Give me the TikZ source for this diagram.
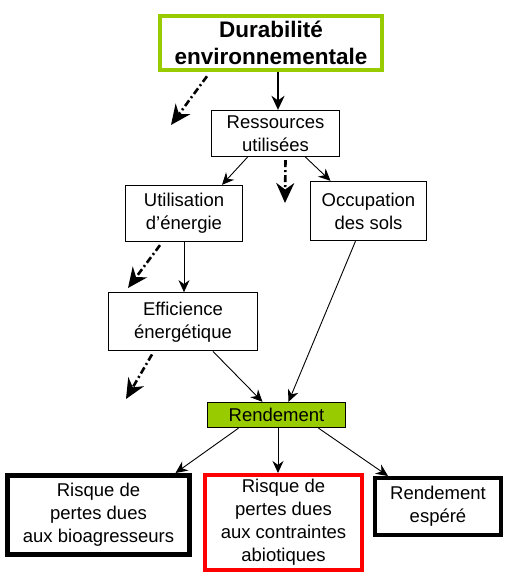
\documentclass[tikz,border=0pt]{standalone}
\usepackage{fontspec}
\setmainfont{Liberation Sans}
\usetikzlibrary{arrows.meta, positioning}
\definecolor{durgreen}{RGB}{153,204,0}
\definecolor{riskred}{RGB}{255,0,0}

\begin{document}
\begin{tikzpicture}[
  x=1pt, y=1pt,
  box/.style={draw, line width=1.3pt, align=center, inner sep=2pt, font=\fontsize{18.5}{23}\selectfont},
  arr/.style={-{Stealth[length=12pt, width=11pt]}, line width=0.9pt},
  bigarr/.style={-{Stealth[length=14pt, width=13pt]}, line width=2.8pt},
  dasharr/.style={-{Stealth[length=20pt, width=18pt]}, line width=2.6pt, dash pattern=on 7pt off 3pt on 2pt off 3pt}
]
\useasboundingbox (0,0) rectangle (530,-574);

\node[box, draw=durgreen, line width=4.5pt, minimum width=222pt, minimum height=54pt, font=\bfseries\fontsize{22.5}{27}\selectfont] (durab) at (271,-43) {Durabilité\\environnementale};
\node[box, minimum width=128pt, minimum height=46pt] (ress) at (275.5,-133.5) {Ressources\\utilisées};
\node[box, minimum width=117pt, minimum height=56pt] (util) at (184,-213.5) {Utilisation\\d'énergie};
\node[box, minimum width=116pt, minimum height=59pt] (occup) at (368.5,-211) {Occupation\\des sols};
\node[box, minimum width=149pt, minimum height=58pt, below=50pt of util, xshift=-1pt] (effic) {Efficience\\énergétique};
\node[box, fill=durgreen, minimum width=138pt, minimum height=25pt] (rend) at (276.5,-415) {Rendement};
\node[box, line width=5pt, minimum width=182pt, minimum height=79pt] (rbio) at (98.5,-515) {Risque de\\pertes dues\\aux bioagresseurs};
\node[box, draw=riskred, line width=4pt, minimum width=157pt, minimum height=95pt] (rabio) at (283.5,-522.5) {Risque de\\pertes dues\\aux contraintes\\abiotiques};
\node[box, line width=4pt, minimum width=126pt, minimum height=57pt] (resp) at (438,-506.5) {Rendement\\espéré};

% fleches pleines
\draw[bigarr] ([xshift=7pt]durab.south) -- ([xshift=2.5pt]ress.north);
\draw[arr] ([xshift=-28pt]ress.south) -- ([xshift=38pt]util.north);
\draw[arr] ([xshift=30pt]ress.south) -- ([xshift=-38pt]occup.north);
\draw[arr] (util.south) -- (util.south |- effic.north);
\draw[arr] ([xshift=30pt]effic.south) -- ([xshift=-14pt]rend.north);
\draw[arr] ([xshift=-13pt]occup.south) -- ([xshift=12pt]rend.north);
\draw[arr] ([xshift=-38pt]rend.south) -- ([xshift=77pt]rbio.north);
\draw[arr] ([xshift=1.5pt]rend.south) -- ([xshift=-5.5pt]rabio.north);
\draw[arr] ([xshift=42pt]rend.south) -- ([xshift=-50pt]resp.north);

% fleches tiretees
\coordinate (d1) at (171,-125);
\coordinate (d2) at (285,-203);
\coordinate (d3) at (128,-288);
\coordinate (d4) at (126,-399);
\draw[dasharr] ([xshift=-64pt,yshift=-4pt]durab.south) -- (d1);
\draw[dasharr] ([xshift=10pt,yshift=-3pt]ress.south) -- (d2);
\draw[dasharr] ([xshift=-24pt,yshift=-3pt]util.south) -- (d3);
\draw[dasharr] ([xshift=-31pt,yshift=-3pt]effic.south) -- (d4);
\end{tikzpicture}
\end{document}
